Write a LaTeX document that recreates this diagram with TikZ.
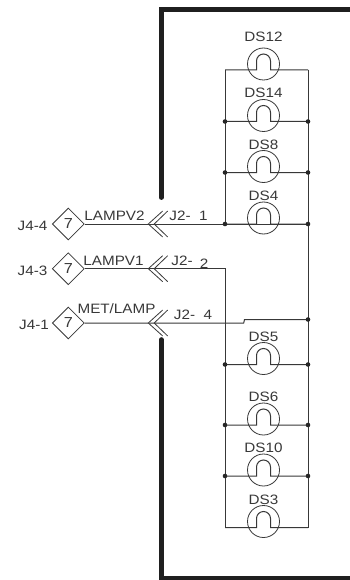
\documentclass[tikz,border=0pt]{standalone}
\usepackage{fontspec}
\setmainfont{Liberation Sans}
\newfontfamily\lab[FakeStretch=1.12]{Liberation Sans}
\usetikzlibrary{shapes.geometric}
\definecolor{ink}{gray}{0.22}
\tikzset{
  x=1pt,y=-1pt,
  wire/.style={draw=ink,line width=1pt},
  frameline/.style={draw=black!88,line width=4.6pt},
  lampc/.style={circle,draw=ink,line width=0.8pt,minimum size=32pt,inner sep=0pt},
  jdot/.style={circle,fill=black!85,inner sep=0pt,minimum size=4.6pt},
  lbl/.style={text=ink,font=\lab\fontsize{13.6}{13.6}\selectfont,inner sep=0pt},
  dia/.style={diamond,draw=ink,line width=0.8pt,minimum width=32pt,minimum height=32pt,inner sep=0pt,text=ink,font=\lab\fontsize{14.5}{14.5}\selectfont},
  pinline/.style={draw=ink,line width=0.8pt}
}
\newcommand{\lamp}[3]{%
  \node[lampc] (#1) at (263.5,#2-6) {};
  \node[lbl] (#1t) at (263.5,#3) {#1};
  \coordinate (#1l) at (225,#2);
  \coordinate (#1r) at (308,#2);
  \draw[wire] (#1l) -- (256.5,#2) -- (256.5,#2-9) arc[start angle=180,end angle=360,radius=7] -- (270.5,#2) -- (#1r);
}
\newcommand{\chev}[2]{%
  \coordinate (#1a) at (148.3,#2);
  \coordinate (#1b) at (154.2,#2);
  \draw[pinline] (162.7,#2-13) -- (#1a) -- (162.7,#2+13);
  \draw[pinline] (167.7,#2-13) -- (#1b) -- (167.7,#2+13);
}
\begin{document}
\begin{tikzpicture}
\useasboundingbox (0,0) rectangle (350,580);
\fill[white] (0,0) rectangle (350,580);
% frame
\coordinate (fa) at (350,9.5);
\coordinate (fb) at (161.2,9.5);
\coordinate (fc) at (161.2,197.5);
\coordinate (fd) at (161.2,339.5);
\coordinate (fe) at (161.2,578.7);
\coordinate (ff) at (350,578.7);
\draw[frameline,line join=miter] (fa) -- (fb) -- (fc);
\draw[frameline,line cap=round] (fc) -- ++(0,0.1);
\draw[frameline,line cap=round] (fd) -- ++(0,0.1);
\draw[frameline] (fd) -- (fe) -- (ff);
% lamps
\lamp{DS12}{70}{37}
\lamp{DS14}{121.5}{93}
\lamp{DS8}{172.5}{144.5}
\lamp{DS4}{224}{196}
\lamp{DS5}{364.5}{337}
\lamp{DS6}{425}{397}
\lamp{DS10}{476}{448}
\lamp{DS3}{527.5}{499.5}
% rails
\draw[wire] (DS12l) -- (DS4l);
\draw[wire] (DS12r) -- (DS3r);
% diamonds and wires
\node[dia] (d1) at (68.3,224) {7};
\node[dia] (d2) at (68.3,268.7) {7};
\node[dia] (d3) at (68.3,323) {7};
\draw[wire] (d1.east) -- (DS4r);
\coordinate (w2) at (225,268.7);
\draw[wire] (d2.east) -- (w2) -- (DS3l);
\coordinate (s1) at (243.7,323);
\coordinate (s2) at (244.5,319.5);
\coordinate (s3) at (308,319.5);
\draw[wire] (d3.east) -- (s1) -- (s2) -- (s3);
% connectors
\chev{c1}{224}
\chev{c2}{268.7}
\chev{c3}{323}
% dots
\foreach \n in {DS14l,DS14r,DS8l,DS8r,DS4l,DS4r,DS5l,DS5r,DS6l,DS6r,DS10l,DS10r,s3}
  \node[jdot] at (\n) {};
% labels
\node[lbl] (t1) at (32.5,226) {J4-4};
\node[lbl] (t2) at (32.5,270.5) {J4-3};
\node[lbl] (t3) at (34,325) {J4-1};
\node[lbl] (t4) at (114.5,216) {LAMPV2};
\node[lbl] (t5) at (113.5,261) {LAMPV1};
\node[lbl] (t6) at (116.5,309) {MET/LAMP};
\node[lbl] (t7) at (188.5,216) {J2-\ \ 1};
\node[lbl] (t8) at (182,261) {J2-};
\node[lbl] (t9) at (204,264) {2};
\node[lbl] (t10) at (193,315) {J2-\ \ 4};
\end{tikzpicture}
\end{document}
